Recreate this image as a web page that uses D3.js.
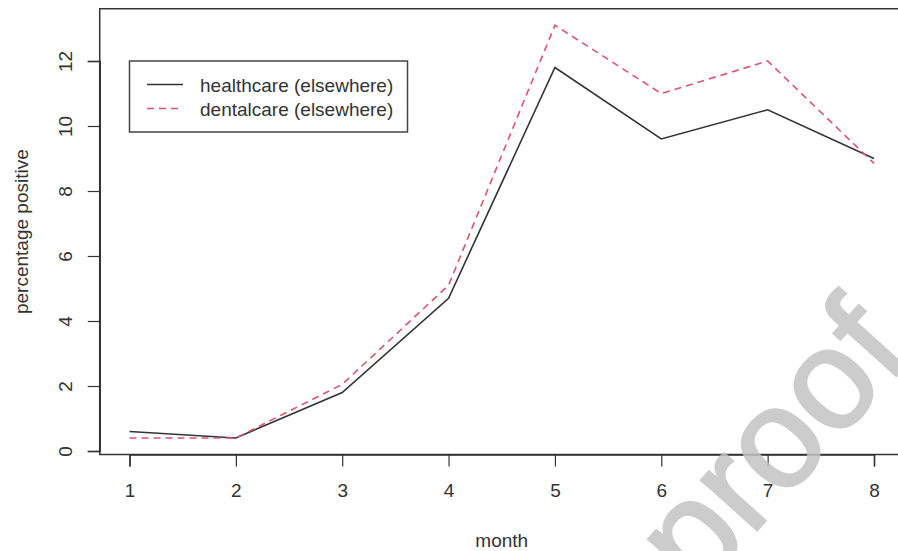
<!DOCTYPE html>
<html lang="en">
<head>
  <meta charset="UTF-8">
  <title>percentage positive by month</title>
  <script src="https://d3js.org/d3.v7.min.js"></script>
  <style>
    body { margin: 0; background: #fff; }
    svg { display: block; font-family: "Liberation Sans", Arial, sans-serif; }
  </style>
</head>
<body>
  <div id="chart"></div>
  <script>
    const months = [1, 2, 3, 4, 5, 6, 7, 8]
    const healthcare = [0.6, 0.4, 1.8, 4.7, 11.8, 9.6, 10.5, 9.0]
    const dentalcare = [0.4, 0.4, 2.05, 5.1, 13.1, 11.0, 12.0, 8.85]
    const yTicks = [0, 2, 4, 6, 8, 10, 12]
    const seriesNames = ['healthcare (elsewhere)', 'dentalcare (elsewhere)']

    const width = 898, height = 551
    const black = '#333', pink = '#DF536B'

    const svg = d3.select('#chart')
                  .append('svg')
                  .attr('width', width)
                  .attr('height', height)

    const xScale = d3.scaleLinear()
                     .domain([1, 8])
                     .range([129.5, 874])
    const yScale = d3.scaleLinear()
                     .domain([0, 12])
                     .range([451, 61])

    // plot region, 4% padding like R
    const xPad = (8 - 1) * 0.04
    const yMin = d3.min(dentalcare.concat(healthcare)), yMax = d3.max(dentalcare.concat(healthcare))
    const yPad = (yMax - yMin) * 0.04
    const boxLeft = xScale(1 - xPad), boxRight = xScale(8 + xPad)
    const boxTop = yScale(yMax + yPad), boxBottom = yScale(yMin - yPad)

    svg.append('rect')
       .attr('x', boxLeft)
       .attr('y', boxTop)
       .attr('width', boxRight - boxLeft)
       .attr('height', boxBottom - boxTop)
       .attr('fill', 'none')
       .attr('stroke', '#333')
       .attr('stroke-width', 1.5)

    const xAxis = svg.append('g')
      .attr('transform', `translate(0, ${boxBottom})`)
      .call(d3.axisBottom(xScale).tickValues(months).tickSize(12).tickPadding(17).tickFormat(d3.format('d')))
    xAxis.select('.domain').attr('stroke', '#333').attr('stroke-width', 1.5)
    xAxis.selectAll('.tick line').attr('stroke', '#333').attr('stroke-width', 1.2)
    xAxis.selectAll('text').attr('font-size', 19).attr('fill', '#333')

    const yAxis = svg.append('g')
      .attr('transform', `translate(${boxLeft}, 0)`)
      .call(d3.axisLeft(yScale).tickValues(yTicks).tickSize(12))
    yAxis.select('.domain').attr('stroke', '#333').attr('stroke-width', 1.5)
    yAxis.selectAll('.tick line').attr('stroke', '#333').attr('stroke-width', 1.2)
    yAxis.selectAll('text')
         .attr('transform', 'rotate(-90)')
         .attr('x', 0)
         .attr('y', -28)
         .attr('dy', null)
         .attr('text-anchor', 'middle')
         .attr('font-size', 19)
         .attr('fill', '#333')
    svg.selectAll('g').attr('font-family', null)

    svg.append('text')
       .attr('transform', `translate(28, ${(boxTop + boxBottom) / 2}) rotate(-90)`)
       .attr('text-anchor', 'middle')
       .attr('font-size', 19)
       .attr('fill', '#333')
       .text('percentage positive')

    svg.append('text')
       .attr('x', (boxLeft + boxRight) / 2)
       .attr('y', 547)
       .attr('text-anchor', 'middle')
       .attr('font-size', 19)
       .attr('fill', '#333')
       .text('month')

    const line = d3.line()
                   .x((d, i) => xScale(months[i]))
                   .y((d) => yScale(d))

    svg.append('path')
       .datum(healthcare)
       .attr('d', line)
       .attr('fill', 'none')
       .attr('stroke', black)
       .attr('stroke-width', 1.6)

    svg.append('path')
       .datum(dentalcare)
       .attr('d', line)
       .attr('fill', 'none')
       .attr('stroke', pink)
       .attr('stroke-width', 1.6)
       .attr('stroke-dasharray', '7,5')

    // legend
    const legend = svg.append('g')
    legend.append('rect')
          .attr('x', 129.5)
          .attr('y', 61)
          .attr('width', 278)
          .attr('height', 71)
          .attr('fill', '#fff')
          .attr('stroke', '#444')
          .attr('stroke-width', 1.5)
    seriesNames.forEach((name, i) => {
      const ly = 84.5 + i * 24
      legend.append('line')
            .attr('x1', 147)
            .attr('x2', 183)
            .attr('y1', ly)
            .attr('y2', ly)
            .attr('stroke', i === 0 ? black : pink)
            .attr('stroke-width', 1.6)
            .attr('stroke-dasharray', i === 0 ? null : '7,5')
      legend.append('text')
            .attr('x', 200)
            .attr('y', ly + 7)
            .attr('font-size', 19)
            .attr('fill', '#333')
            .text(name)
    })

    // watermark (runs off the page edge in the original too)
    svg.append('text')
       .attr('transform', 'translate(806, 476) rotate(-48)')
       .attr('text-anchor', 'middle')
       .attr('font-size', 142)
       .attr('fill', '#c4c4c4')
       .attr('stroke', '#c4c4c4')
       .attr('stroke-width', 2.5)
       .attr('opacity', 0.85)
       .text('proof')
  </script>
</body>
</html>
